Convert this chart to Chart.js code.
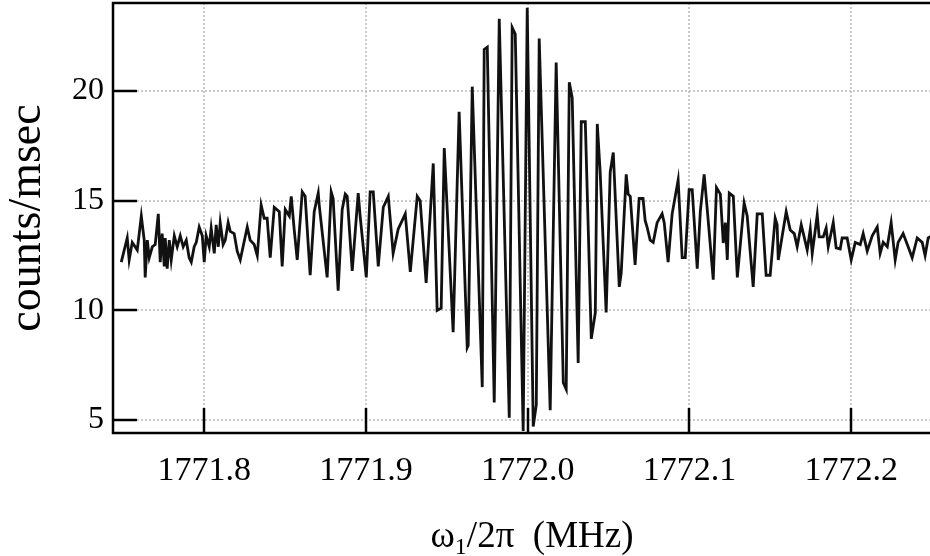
<!DOCTYPE html>
<html>
<head>
<meta charset="utf-8">
<script src="https://cdn.jsdelivr.net/npm/chart.js@4/dist/chart.umd.min.js"></script>
<style>
  html, body { margin: 0; padding: 0; background: #fff; overflow: hidden; }
  #wrap { width: 930px; height: 556px; overflow: hidden; }
</style>
</head>
<body>
<div id="wrap"><canvas id="fringes" width="950" height="556"></canvas></div>
<script>
// Ramsey fringe scan: drive frequency (MHz) vs. count rate (counts/msec)
const freqMHz = [
  1771.7487, 1771.7524, 1771.7536, 1771.7555, 1771.7586, 1771.7611, 1771.7629, 1771.7635, 1771.7648, 1771.7660,
  1771.7679, 1771.7697, 1771.7716, 1771.7728, 1771.7740, 1771.7753, 1771.7759, 1771.7771, 1771.7784, 1771.7796,
  1771.7815, 1771.7833, 1771.7852, 1771.7870, 1771.7889, 1771.7907, 1771.7920, 1771.7938, 1771.7951, 1771.7969,
  1771.7988, 1771.8000, 1771.8012, 1771.8031, 1771.8043, 1771.8062, 1771.8074, 1771.8087, 1771.8099, 1771.8117,
  1771.8130, 1771.8148, 1771.8161, 1771.8185, 1771.8204, 1771.8223, 1771.8266, 1771.8284, 1771.8309, 1771.8328,
  1771.8352, 1771.8371, 1771.8389, 1771.8408, 1771.8433, 1771.8464, 1771.8482, 1771.8501, 1771.8526, 1771.8538,
  1771.8556, 1771.8575, 1771.8606, 1771.8624, 1771.8655, 1771.8680, 1771.8705, 1771.8711, 1771.8760, 1771.8785,
  1771.8797, 1771.8828, 1771.8853, 1771.8872, 1771.8884, 1771.8915, 1771.8952, 1771.8964, 1771.9002, 1771.9026,
  1771.9045, 1771.9076, 1771.9107, 1771.9138, 1771.9168, 1771.9199, 1771.9243, 1771.9274, 1771.9317, 1771.9335,
  1771.9372, 1771.9416, 1771.9440, 1771.9465, 1771.9484, 1771.9539, 1771.9576, 1771.9626, 1771.9632, 1771.9657,
  1771.9719, 1771.9731, 1771.9750, 1771.9793, 1771.9824, 1771.9886, 1771.9904, 1771.9923, 1771.9972, 1771.9997,
  1772.0034, 1772.0053, 1772.0071, 1772.0139, 1772.0176, 1772.0220, 1772.0238, 1772.0257, 1772.0275, 1772.0312,
  1772.0331, 1772.0356, 1772.0393, 1772.0418, 1772.0430, 1772.0448, 1772.0485, 1772.0510, 1772.0529, 1772.0566,
  1772.0578, 1772.0609, 1772.0621, 1772.0634, 1772.0664, 1772.0689, 1772.0713, 1772.0726, 1772.0738, 1772.0757,
  1772.0776, 1772.0800, 1772.0831, 1772.0844, 1772.0868, 1772.0893, 1772.0930, 1772.0955, 1772.0974, 1772.0998,
  1772.1017, 1772.1048, 1772.1067, 1772.1091, 1772.1110, 1772.1147, 1772.1167, 1772.1191, 1772.1209, 1772.1222,
  1772.1234, 1772.1246, 1772.1271, 1772.1296, 1772.1338, 1772.1357, 1772.1394, 1772.1419, 1772.1450, 1772.1474,
  1772.1499, 1772.1530, 1772.1542, 1772.1549, 1772.1598, 1772.1623, 1772.1648, 1772.1666, 1772.1691, 1772.1709,
  1772.1728, 1772.1747, 1772.1759, 1772.1790, 1772.1802, 1772.1827, 1772.1845, 1772.1858, 1772.1889, 1772.1907,
  1772.1932, 1772.1944, 1772.1975, 1772.2000, 1772.2025, 1772.2056, 1772.2074, 1772.2099, 1772.2130, 1772.2161,
  1772.2179, 1772.2198, 1772.2223, 1772.2247, 1772.2272, 1772.2290, 1772.2321, 1772.2352, 1772.2377, 1772.2408,
  1772.2439, 1772.2457, 1772.2476, 1772.2500
];

const counts = [
  12.2, 13.3, 12.3, 13.1, 12.75, 14.3, 13.2, 11.5, 13.2, 12.4,
  12.9, 13.0, 14.4, 12.2, 13.5, 12.0, 13.3, 11.9, 13.2, 12.3,
  13.4, 12.9, 13.4, 12.9, 13.2, 12.4, 12.2, 12.9, 13.1, 13.8,
  13.4, 12.2, 13.4, 12.9, 13.75, 12.6, 13.9, 12.9, 14.0, 13.0,
  13.2, 14.0, 13.6, 13.5, 12.7, 12.3, 13.8, 13.2, 13.0, 12.5,
  14.8, 14.2, 14.2, 12.4, 14.7, 14.5, 12.0, 14.6, 14.3, 15.2,
  13.7, 12.3, 15.4, 15.2, 11.6, 14.5, 15.35, 14.8, 11.5, 15.4,
  15.1, 10.9, 14.6, 15.3, 15.2, 11.8, 15.35, 14.3, 11.5, 15.4,
  15.4, 12.0, 14.7, 15.2, 12.6, 13.7, 14.4, 11.75, 15.2, 15.0,
  11.25, 16.7, 10.0, 10.1, 17.4, 9.0, 19.05, 8.3, 8.4, 20.2,
  6.5, 21.9, 22.0, 5.8, 23.3, 5.1, 22.9, 22.6, 4.5, 23.8,
  4.7, 5.7, 22.4, 5.45, 21.3, 6.7, 6.4, 20.4, 19.7, 7.6,
  18.6, 18.6, 8.7, 9.9, 18.5, 16.3, 9.9, 16.3, 17.2, 11.07,
  11.7, 16.2, 15.3, 15.2, 12.07, 15.1, 15.1, 14.1, 13.8, 13.2,
  13.1, 14.0, 14.4, 14.0, 12.2, 14.4, 15.94, 12.4, 12.4, 15.5,
  15.5, 11.9, 14.5, 16.2, 14.6, 11.4, 15.6, 15.3, 13.07, 14.0,
  12.3, 15.35, 15.2, 11.5, 14.9, 14.3, 11.07, 14.4, 14.4, 11.6,
  11.6, 14.2, 13.9, 12.3, 14.5, 13.66, 13.5, 12.9, 13.9, 13.35,
  12.75, 13.7, 12.6, 14.35, 13.35, 13.35, 13.75, 12.9, 14.0, 12.85,
  12.8, 13.3, 13.3, 12.3, 13.1, 13.0, 13.5, 12.7, 13.4, 13.8,
  12.6, 13.1, 12.9, 14.0, 12.3, 13.1, 13.5, 12.9, 12.4, 13.3,
  13.1, 12.5, 13.3, 13.4
];

const xTicks = [1771.8, 1771.9, 1772.0, 1772.1, 1772.2];
const yTicks = [5, 10, 15, 20];

const serif = '"Liberation Serif", "Times New Roman", serif';

// frame, inward tick marks and the x-axis title (with subscript)
const frameAndTicks = {
  id: 'frameAndTicks',
  afterDraw(chart) {
    const { ctx, chartArea: a, scales: { x, y } } = chart;
    ctx.save();
    ctx.strokeStyle = '#000';
    ctx.lineWidth = 2.5;
    ctx.strokeRect(a.left, a.top, a.right - a.left, a.bottom - a.top);

    ctx.beginPath();
    yTicks.forEach(v => {
      const py = Math.round(y.getPixelForValue(v));
      ctx.moveTo(a.left, py);
      ctx.lineTo(a.left + 24, py);
    });
    xTicks.forEach(v => {
      const px = Math.round(x.getPixelForValue(v));
      ctx.moveTo(px, a.bottom);
      ctx.lineTo(px, a.bottom - 25);
    });
    ctx.stroke();

    // ω₁/2π  (MHz)
    const big = '37px ' + serif;
    const small = '24px ' + serif;
    const parts = [
      { t: '\u03C9', f: big, dy: 0 },
      { t: '1', f: small, dy: 7 },
      { t: '/2\u03C0  (MHz)', f: big, dy: 0 }
    ];
    let total = 0;
    parts.forEach(p => { ctx.font = p.f; p.w = ctx.measureText(p.t).width; total += p.w; });
    let cx = 532 - total / 2;
    const base = 547;
    ctx.fillStyle = '#000';
    ctx.textBaseline = 'alphabetic';
    ctx.textAlign = 'left';
    parts.forEach(p => {
      ctx.font = p.f;
      ctx.fillText(p.t, cx, base + p.dy);
      cx += p.w;
    });
    ctx.restore();
  }
};

const gridStyle = {
  color: 'rgba(175,175,175,0.65)',
  lineWidth: 2,
  drawTicks: false
};

new Chart(document.getElementById('fringes').getContext('2d'), {
  type: 'line',
  data: {
    datasets: [{
      data: freqMHz.map((f, i) => ({ x: f, y: counts[i] })),
      borderColor: '#111',
      borderWidth: 2.8,
      pointRadius: 0,
      tension: 0,
      fill: false
    }]
  },
  options: {
    responsive: false,
    animation: false,
    layout: { padding: { top: 3, right: 10, left: 0, bottom: 0 } },
    plugins: {
      legend: { display: false },
      tooltip: { enabled: false }
    },
    scales: {
      x: {
        type: 'linear',
        min: 1771.7436,
        max: 1772.2549,
        afterBuildTicks: s => { s.ticks = xTicks.map(v => ({ value: v })); },
        afterFit: s => { s.height = 123; s.paddingLeft = 0; s.paddingRight = 0; },
        grid: gridStyle,
        border: { display: false, dash: [2, 2] },
        ticks: {
          color: '#000',
          padding: 18,
          maxRotation: 0,
          font: { family: serif, size: 34 },
          callback: v => Number(v).toFixed(1)
        }
      },
      y: {
        type: 'linear',
        min: 4.407,
        max: 24.015,
        afterBuildTicks: s => { s.ticks = yTicks.map(v => ({ value: v })); },
        afterFit: s => { s.width = 113; s.paddingTop = 0; s.paddingBottom = 0; },
        grid: gridStyle,
        border: { display: false, dash: [2, 2] },
        title: {
          display: true,
          text: 'counts/msec',
          color: '#000',
          font: { family: serif, size: 46 },
          padding: { top: 0, bottom: 0 }
        },
        ticks: {
          color: '#000',
          padding: 9,
          font: { family: serif, size: 32 },
          callback: v => String(v)
        }
      }
    }
  },
  plugins: [frameAndTicks]
});
</script>
</body>
</html>
